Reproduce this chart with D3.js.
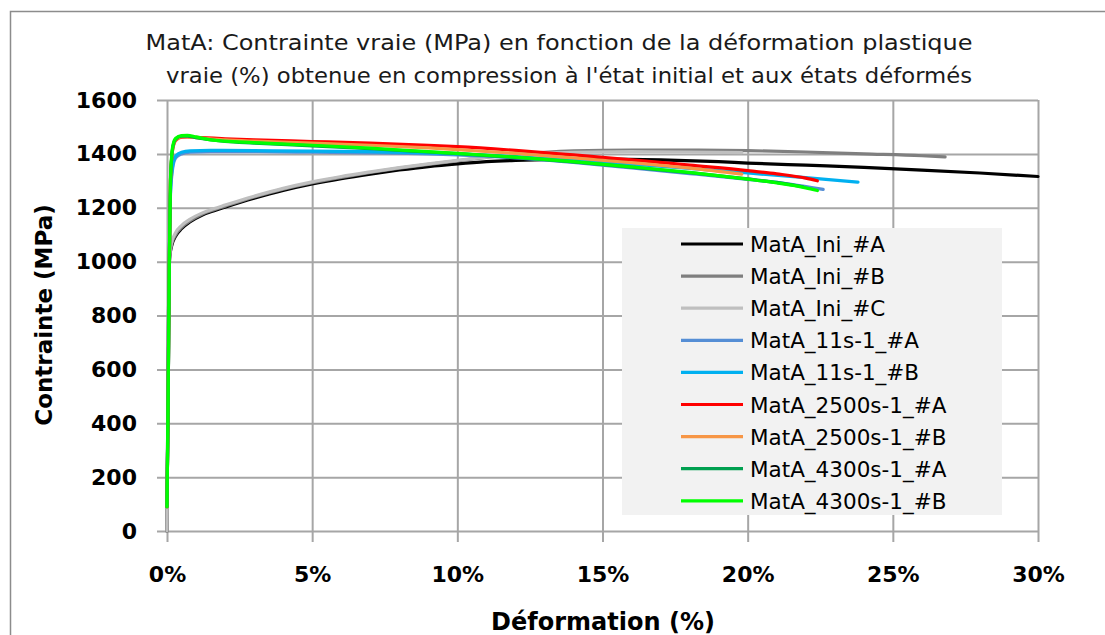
<!DOCTYPE html>
<html><head><meta charset="utf-8">
<script src="https://cdn.jsdelivr.net/npm/d3@7"></script>
<style>body{margin:0;background:#fff;overflow:hidden}</style>
</head><body><svg id="c" width="1105" height="635"></svg>
<script>
const titleLines = ["MatA: Contrainte vraie (MPa) en fonction de la déformation plastique",
                    "vraie (%) obtenue en compression à l'état initial et aux états déformés"];
const xLabel = "Déformation (%)";
const yLabel = "Contrainte (MPa)";
const xTicks = [0, 5, 10, 15, 20, 25, 30];
const yTicks = [0, 200, 400, 600, 800, 1000, 1200, 1400, 1600];
const seriesNames = ["MatA_Ini_#A","MatA_Ini_#B","MatA_Ini_#C","MatA_11s-1_#A","MatA_11s-1_#B",
                     "MatA_2500s-1_#A","MatA_2500s-1_#B","MatA_4300s-1_#A","MatA_4300s-1_#B"];
const seriesColors = ["#000000","#7f7f7f","#bfbfbf","#558ed5","#00b0f0","#ff0000","#f79646","#00a050","#00ff00"];

// [strain %, true stress MPa]
const MatA_Ini_A = [[0,0],[0.03,500],[0.06,900],[0.09,1010],[0.15,1055],[0.3,1095],[0.5,1122],[0.8,1148],[1.2,1172],[1.6,1188],[2,1202],[3,1235],[4,1264],[5,1288],[6,1308],[7,1325],[8,1340],[9,1353],[10,1363],[11,1371],[12,1376],[13,1379],[15,1381],[17,1378],[19,1371],[20,1366],[22,1358],[24,1350],[26,1340],[28,1329],[30,1316]];
const MatA_Ini_B = [[0,0],[0.03,500],[0.06,900],[0.09,1015],[0.15,1060],[0.3,1100],[0.5,1127],[0.8,1152],[1.2,1176],[1.6,1192],[2,1206],[3,1240],[4,1269],[5,1293],[6,1313],[7,1331],[8,1347],[9,1361],[10,1374],[11,1387],[12,1398],[13,1406],[14,1411],[16,1414],[18,1414],[20,1412],[22,1407],[24,1400],[26,1393],[26.8,1389]];
const MatA_Ini_C = [[0,0],[0.03,500],[0.06,900],[0.09,1020],[0.15,1068],[0.3,1108],[0.5,1134],[0.8,1158],[1.2,1180],[1.6,1196],[2,1210],[3,1243],[4,1272],[5,1296],[6,1316],[7,1333],[8,1349],[9,1363],[10,1376],[11,1388],[12,1397],[13,1403],[14,1406],[16,1408],[18,1407],[19.8,1405]];
const MatA_11s_A = [[0,100],[0.04,500],[0.08,1000],[0.12,1250],[0.2,1350],[0.3,1385],[0.5,1400],[0.8,1406],[1.5,1408],[3,1408],[5,1406],[7,1404],[9,1400],[10,1396],[12,1385],[14,1368],[16,1348],[18,1327],[20,1305],[21.5,1287],[22.6,1268]];
const MatA_11s_B = [[0,100],[0.04,500],[0.08,1000],[0.12,1260],[0.2,1360],[0.3,1392],[0.5,1406],[0.8,1411],[1.5,1413],[3,1412],[5,1410],[7,1408],[9,1404],[10,1400],[12,1390],[14,1377],[16,1362],[18,1346],[20,1329],[22,1312],[23.8,1295]];
const MatA_2500s_A = [[0,90],[0.04,500],[0.08,1000],[0.12,1300],[0.2,1420],[0.3,1450],[0.5,1462],[0.7,1463],[1,1461],[2,1456],[3,1452],[5,1446],[7,1440],[9,1432],[10,1427],[12,1413],[14,1396],[16,1378],[18,1358],[20,1338],[21,1326],[22,1310],[22.4,1300]];
const MatA_2500s_B = [[0,90],[0.04,500],[0.08,1000],[0.12,1300],[0.2,1420],[0.3,1452],[0.5,1464],[0.7,1464],[1,1460],[2,1452],[3,1447],[5,1440],[7,1432],[9,1422],[10,1416],[12,1402],[14,1385],[16,1367],[18,1347],[19.8,1325]];
const MatA_4300s_A = [[0,90],[0.04,500],[0.08,1000],[0.12,1300],[0.2,1425],[0.3,1455],[0.5,1466],[0.7,1466],[1,1460],[2,1446],[3,1440],[5,1430],[7,1419],[9,1407],[10,1401],[12,1387],[14,1370],[16,1351],[18,1330],[20,1307],[21,1294],[21.9,1278]];
const MatA_4300s_B = [[0,90],[0.04,500],[0.08,1000],[0.12,1310],[0.2,1430],[0.3,1458],[0.5,1468],[0.7,1469],[1,1463],[1.5,1452],[2,1447],[3,1442],[5,1432],[7,1421],[9,1408],[10,1402],[12,1388],[14,1371],[16,1352],[18,1331],[20,1306],[21,1292],[22,1274],[22.4,1264]];
const seriesData = [MatA_Ini_A, MatA_Ini_B, MatA_Ini_C, MatA_11s_A, MatA_11s_B, MatA_2500s_A, MatA_2500s_B, MatA_4300s_A, MatA_4300s_B];

const svg = d3.select("#c");
const W = 1105, H = 635;
const plot = {l: 167, r: 1038, t: 100, b: 531};
const gridColor = "#a6a6a6";
const x = d3.scaleLinear().domain([0, 30]).range([plot.l, plot.r]);
const y = d3.scaleLinear().domain([0, 1600]).range([plot.b, plot.t]);

svg.append("rect").attr("x", 0).attr("y", 0).attr("width", W).attr("height", H).attr("fill", "#fff");
svg.append("rect").attr("x", 10.5).attr("y", 11.5).attr("width", W + 20).attr("height", H + 20)
  .attr("fill", "#fff").attr("stroke", "#8c8c8c").attr("stroke-width", 1.5);

// title
const tg = svg.append("g").attr("font-family", "'DejaVu Sans Condensed', 'DejaVu Sans', sans-serif")
  .attr("font-size", 22).attr("fill", "#1a1a1a").attr("text-anchor", "middle");
tg.append("text").attr("x", 559).attr("y", 50).attr("textLength", 827).attr("lengthAdjust", "spacingAndGlyphs").text(titleLines[0]);
tg.append("text").attr("x", 569).attr("y", 83).attr("textLength", 806).attr("lengthAdjust", "spacingAndGlyphs").text(titleLines[1]);

// y axis with gridlines
const yAx = svg.append("g").attr("transform", `translate(157,0)`)
  .call(d3.axisLeft(y).tickValues(yTicks).tickSizeInner(-(plot.r - 157)).tickSizeOuter(0).tickPadding(20).tickFormat(d3.format("d")));
yAx.select(".domain").remove();
yAx.selectAll(".tick line").attr("stroke", gridColor).attr("stroke-width", 2);
yAx.selectAll(".tick text").attr("font-family", "'DejaVu Sans', sans-serif").attr("font-weight", "bold")
  .attr("font-size", 22).attr("fill", "#000");

// x axis with gridlines
const xAx = svg.append("g").attr("transform", `translate(0,542)`)
  .call(d3.axisBottom(x).tickValues(xTicks).tickSizeInner(-(542 - plot.t)).tickSizeOuter(0).tickPadding(24).tickFormat(d => d + "%"));
xAx.select(".domain").remove();
xAx.selectAll(".tick line").attr("stroke", gridColor).attr("stroke-width", 2);
xAx.selectAll(".tick text").attr("font-family", "'DejaVu Sans', sans-serif").attr("font-weight", "bold")
  .attr("font-size", 22).attr("fill", "#000");

// axis titles
svg.append("text").attr("transform", `translate(52,315) rotate(-90)`).attr("text-anchor", "middle")
  .attr("font-family", "'DejaVu Sans', sans-serif").attr("font-weight", "bold").attr("font-size", 23)
  .attr("fill", "#000").text(yLabel);
svg.append("text").attr("x", 603).attr("y", 630).attr("text-anchor", "middle")
  .attr("font-family", "'DejaVu Sans', sans-serif").attr("font-weight", "bold").attr("font-size", 24)
  .attr("fill", "#000").text(xLabel);

// series
const line = d3.line().x(d => x(d[0])).y(d => y(d[1])).curve(d3.curveMonotoneX);
svg.append("g").selectAll("path").data(seriesData).join("path")
  .attr("d", line).attr("fill", "none")
  .attr("stroke", (d, i) => seriesColors[i]).attr("stroke-width", 3.2)
  .attr("stroke-linecap", "round").attr("stroke-linejoin", "round");

// legend
const lg = svg.append("g");
lg.append("rect").attr("x", 622).attr("y", 228).attr("width", 380).attr("height", 287).attr("fill", "#f2f2f2");
const row = lg.selectAll("g.row").data(seriesNames).join("g").attr("class", "row")
  .attr("transform", (d, i) => `translate(0,${244 + i * 32.1})`);
row.append("line").attr("x1", 681).attr("x2", 743).attr("y1", 0).attr("y2", 0)
  .attr("stroke", (d, i) => seriesColors[i]).attr("stroke-width", 3.2);
row.append("text").attr("x", 750).attr("y", 8).attr("font-family", "'DejaVu Sans', sans-serif")
  .attr("font-size", 21.5).attr("fill", "#000").text(d => d);
</script></body></html>
